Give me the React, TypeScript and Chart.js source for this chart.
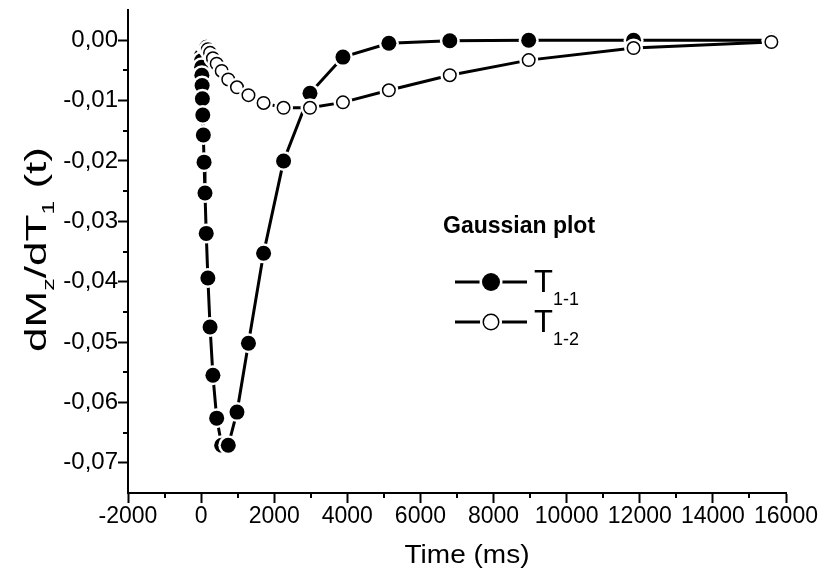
import React, { useEffect, useRef } from 'react';
import { Chart, registerables } from 'chart.js';

Chart.register(...registerables);

// Sampling times (ms), shared by both curves
const timesMs = [
  2, 3, 4, 5, 7, 9, 12, 15, 20, 27, 35, 46, 61, 81, 106, 140, 185, 245, 323, 426,
  563, 743, 981, 1295, 1709, 2256, 2978, 3880, 5136, 6803, 8961, 11830, 15600,
];

// dMz/dT1 for component T1-1 (filled circles)
const seriesT11 = [
  -0.0006, -0.0008, -0.0011, -0.0015, -0.002, -0.0026, -0.0034, -0.0045, -0.0058, -0.0075,
  -0.0097, -0.0124, -0.0157, -0.0202, -0.0253, -0.032, -0.0394, -0.0475, -0.0555, -0.0626,
  -0.0671, -0.0671, -0.0616, -0.0502, -0.0353, -0.02, -0.0088, -0.0028, -0.0005, -0.0001,
  0, 0, 0,
];

// dMz/dT1 for component T1-2 (open circles)
const seriesT12 = [
  0, 0, -0.0001, -0.0001, -0.0001, -0.0001, -0.0002, -0.0002, -0.0003, -0.0003,
  -0.0004, -0.0005, -0.0006, -0.0007, -0.0009, -0.0011, -0.0015, -0.0021, -0.003, -0.0039,
  -0.0051, -0.0065, -0.0078, -0.0091, -0.0104, -0.0112, -0.0112, -0.0103, -0.0083, -0.0058,
  -0.0033, -0.0013, -0.0003,
];

const xMajorTicks = [-2000, 0, 2000, 4000, 6000, 8000, 10000, 12000, 14000, 16000];
const xMinorTicks = [-1000, 1000, 3000, 5000, 7000, 9000, 11000, 13000, 15000];
const yMajorTicks = [-0.07, -0.06, -0.05, -0.04, -0.03, -0.02, -0.01, 0];
const yMinorTicks = [-0.065, -0.055, -0.045, -0.035, -0.025, -0.015, -0.005];

const FONT = "'Liberation Sans', Arial, sans-serif";

// Draws the circle markers with a white halo so the connecting lines stop short of them
function drawMarker(ctx: CanvasRenderingContext2D, x: number, y: number, filled: boolean, r: number) {
  ctx.beginPath();
  ctx.arc(x, y, r + 2.5, 0, Math.PI * 2);
  ctx.fillStyle = '#fff';
  ctx.fill();
  ctx.beginPath();
  if (filled) {
    ctx.arc(x, y, r, 0, Math.PI * 2);
    ctx.fillStyle = '#000';
    ctx.fill();
  } else {
    ctx.arc(x, y, r - 0.75, 0, Math.PI * 2);
    ctx.fillStyle = '#fff';
    ctx.fill();
    ctx.lineWidth = 1.5;
    ctx.strokeStyle = '#000';
    ctx.stroke();
  }
}

const markersPlugin = {
  id: 'haloMarkers',
  afterDatasetsDraw(chart: any) {
    const ctx = chart.ctx as CanvasRenderingContext2D;
    ctx.save();
    // filled series first, open series on top
    const order = [1, 0];
    for (const di of order) {
      const meta = chart.getDatasetMeta(di);
      const filled = chart.data.datasets[di].filledMarker;
      for (const el of meta.data) {
        drawMarker(ctx, el.x, el.y, filled, filled ? 7.5 : 7);
      }
    }
    ctx.restore();
  },
};

const minorTicksPlugin = {
  id: 'minorTicks',
  afterDraw(chart: any) {
    const ctx = chart.ctx as CanvasRenderingContext2D;
    const xs = chart.scales.x;
    const ys = chart.scales.y;
    const area = chart.chartArea;
    ctx.save();
    ctx.strokeStyle = '#000';
    ctx.lineWidth = 2;
    ctx.beginPath();
    for (const v of xMinorTicks) {
      const px = Math.round(xs.getPixelForValue(v));
      ctx.moveTo(px, area.bottom);
      ctx.lineTo(px, area.bottom + 5);
    }
    for (const v of yMinorTicks) {
      const py = Math.round(ys.getPixelForValue(v));
      ctx.moveTo(area.left, py);
      ctx.lineTo(area.left - 5, py);
    }
    ctx.stroke();
    ctx.restore();
  },
};

// Text pieces with subscripts: axis title, in-plot heading and legend
function drawSubText(ctx: CanvasRenderingContext2D, parts: [string, boolean][], x: number, y: number, size: number, subSize: number, subDrop: number) {
  let cx = x;
  for (const [txt, sub] of parts) {
    ctx.font = `${sub ? subSize : size}px ${FONT}`;
    ctx.fillText(txt, cx, sub ? y + subDrop : y);
    cx += ctx.measureText(txt).width;
  }
  return cx - x;
}

function measureSubText(ctx: CanvasRenderingContext2D, parts: [string, boolean][], size: number, subSize: number) {
  let w = 0;
  for (const [txt, sub] of parts) {
    ctx.font = `${sub ? subSize : size}px ${FONT}`;
    w += ctx.measureText(txt).width;
  }
  return w;
}

const annotationsPlugin = {
  id: 'annotations',
  afterDraw(chart: any) {
    const ctx = chart.ctx as CanvasRenderingContext2D;
    const area = chart.chartArea;
    ctx.save();
    ctx.fillStyle = '#000';
    ctx.textBaseline = 'alphabetic';
    ctx.textAlign = 'left';

    // x axis title, slightly widened lettering
    ctx.save();
    ctx.font = `25px ${FONT}`;
    ctx.textAlign = 'center';
    ctx.translate(467, 563);
    ctx.scale(1.12, 1);
    ctx.fillText('Time (ms)', 0, 0);
    ctx.restore();

    // y axis title, rotated and widened along its baseline
    const yParts: [string, boolean][] = [['dM', false], ['z', true], ['/dT', false], ['1', true], [' (t)', false]];
    const w = measureSubText(ctx, yParts, 30, 17);
    const stretch = 205 / w;
    ctx.save();
    ctx.translate(46, (area.top + area.bottom) / 2 - 2);
    ctx.rotate(-Math.PI / 2);
    ctx.scale(stretch, 1);
    drawSubText(ctx, yParts, -w / 2, 0, 30, 17, 8);
    ctx.restore();

    // heading
    ctx.font = `bold 23px ${FONT}`;
    ctx.fillText('Gaussian plot', 443, 233);

    // legend rows
    const rows: [number, boolean, string][] = [
      [282, true, '1-1'],
      [322, false, '1-2'],
    ];
    for (const [ly, filled, sub] of rows) {
      ctx.beginPath();
      ctx.moveTo(455, ly);
      ctx.lineTo(527, ly);
      ctx.lineWidth = 3;
      ctx.strokeStyle = '#000';
      ctx.stroke();
      drawMarker(ctx, 491, ly, filled, filled ? 9 : 8.5);
      ctx.fillStyle = '#000';
      drawSubText(ctx, [['T', false], [sub, true]], 534, ly + 10, 31, 18, 13);
    }
    ctx.restore();
  },
};

export default function App() {
  const canvasRef = useRef<HTMLCanvasElement | null>(null);

  useEffect(() => {
    if (!canvasRef.current) return;
    const toPoints = (vals: number[]) => timesMs.map((t, i) => ({ x: t, y: vals[i] }));

    const chart = new Chart(canvasRef.current, {
      type: 'line',
      data: {
        datasets: [
          {
            label: 'T1-2',
            data: toPoints(seriesT12),
            borderColor: '#000',
            borderWidth: 3,
            pointRadius: 0,
            pointHoverRadius: 0,
            tension: 0,
            fill: false,
            filledMarker: false,
          } as any,
          {
            label: 'T1-1',
            data: toPoints(seriesT11),
            borderColor: '#000',
            borderWidth: 3,
            pointRadius: 0,
            pointHoverRadius: 0,
            tension: 0,
            fill: false,
            filledMarker: true,
          } as any,
        ],
      },
      options: {
        animation: false,
        responsive: true,
        maintainAspectRatio: false,
        layout: { padding: { top: 10, right: 32, left: 0, bottom: 0 } },
        plugins: {
          legend: { display: false },
          tooltip: { enabled: false },
        },
        scales: {
          x: {
            type: 'linear',
            min: -2000,
            max: 16000,
            afterBuildTicks: (scale: any) => {
              scale.ticks = xMajorTicks.map((v) => ({ value: v }));
            },
            afterFit: (scale: any) => {
              scale.height = 81;
              scale.paddingLeft = 0;
              scale.paddingRight = 0;
            },
            ticks: {
              color: '#000',
              font: { family: FONT, size: 23 },
              padding: 0,
              maxRotation: 0,
              autoSkip: false,
              callback: (v: any) => String(v),
            },
            grid: {
              drawOnChartArea: false,
              drawTicks: true,
              tickLength: 10,
              tickWidth: 2,
              tickColor: '#000',
            },
            border: { display: true, color: '#000', width: 2 },
          },
          y: {
            type: 'linear',
            min: -0.075,
            max: 0.005,
            afterBuildTicks: (scale: any) => {
              scale.ticks = yMajorTicks.map((v) => ({ value: v }));
            },
            afterFit: (scale: any) => {
              scale.width = 128;
              scale.paddingTop = 0;
              scale.paddingBottom = 0;
            },
            ticks: {
              color: '#000',
              font: { family: FONT, size: 24 },
              padding: 0,
              autoSkip: false,
              callback: (v: any) => Number(v).toFixed(2).replace('.', ','),
            },
            grid: {
              drawOnChartArea: false,
              drawTicks: true,
              tickLength: 10,
              tickWidth: 2,
              tickColor: '#000',
            },
            border: { display: true, color: '#000', width: 2 },
          },
        },
      },
      plugins: [markersPlugin, minorTicksPlugin, annotationsPlugin],
    });

    return () => chart.destroy();
  }, []);

  return (
    <div style={{ position: 'fixed', left: 0, top: 0, width: 818, height: 574, background: '#fff' }}>
      <canvas ref={canvasRef} />
    </div>
  );
}
